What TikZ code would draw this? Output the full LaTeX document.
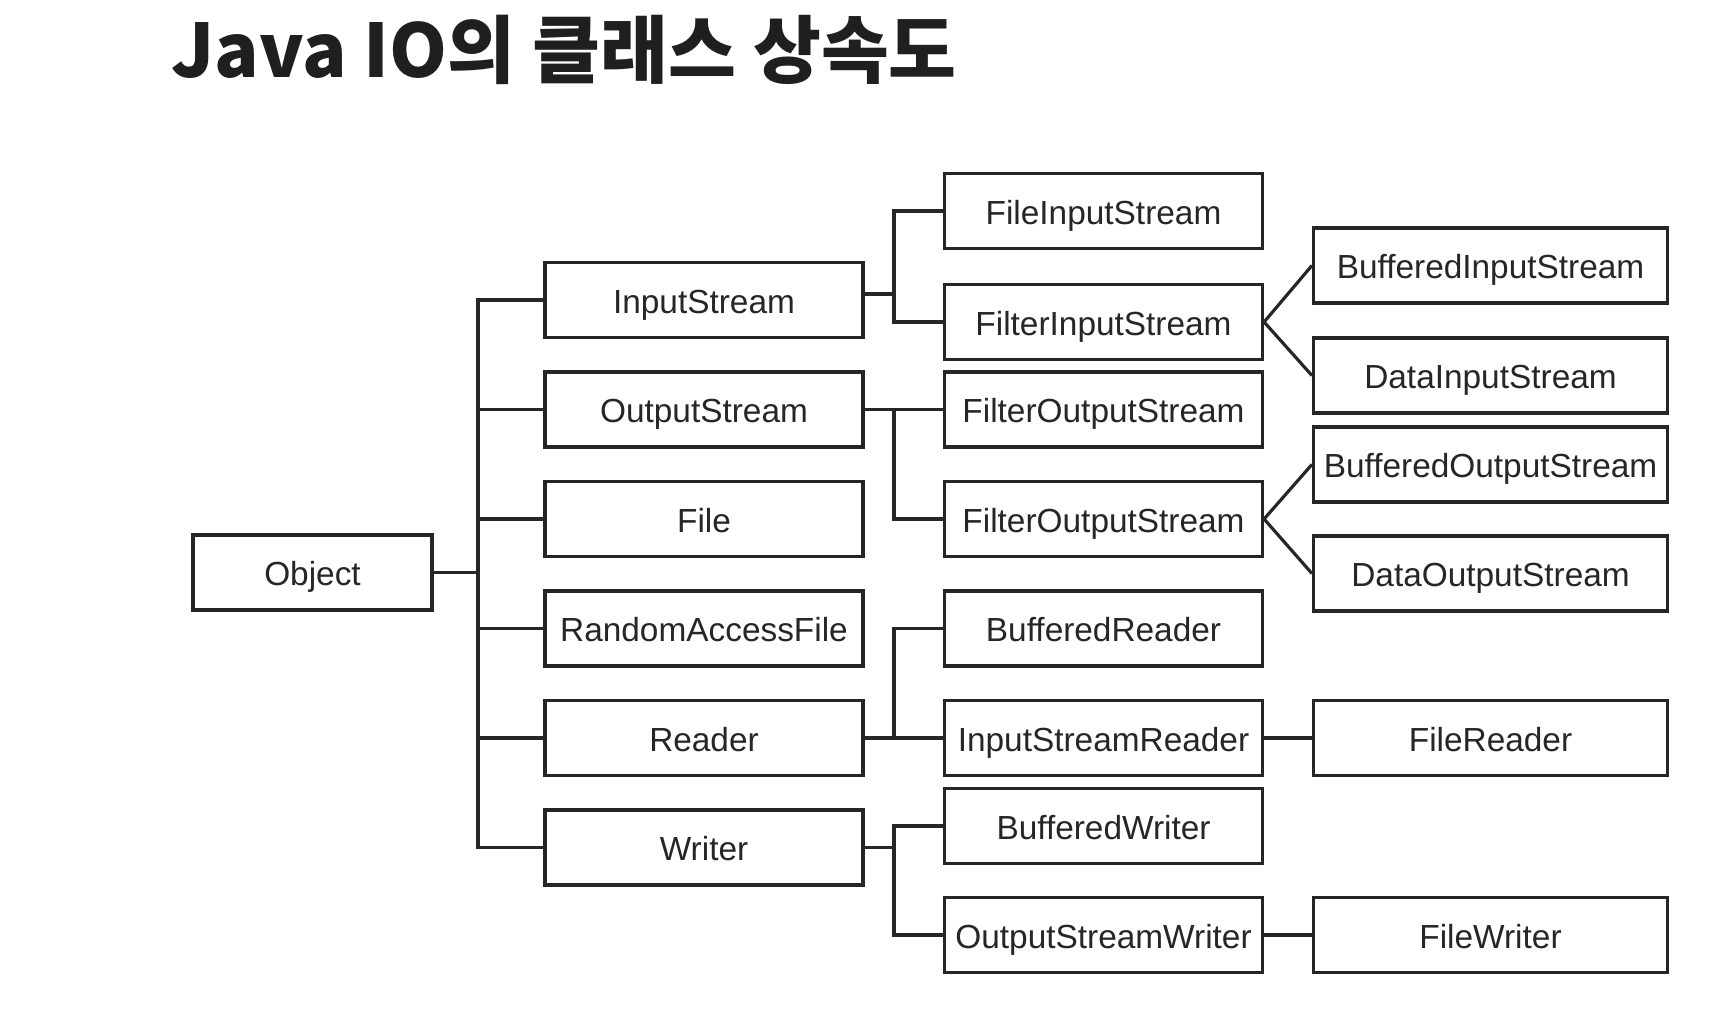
\documentclass[tikz,border=0pt]{standalone}
\usepackage{fontspec}
\setmainfont{Liberation Sans}
\newfontfamily\krfont{Noto Sans CJK KR}
\usetikzlibrary{positioning}

\begin{document}
\begin{tikzpicture}[on grid,node distance=2.19cm,
                    cls/.style={draw=black!85,line width=1.8pt,fill=white,text=black!85,
                                minimum width=6.36cm,minimum height=1.5cm,inner sep=0pt,
                                text height=15pt,text depth=0pt,
                                font=\fontsize{19}{19}\selectfont},
                    wide/.style={cls,minimum width=7.08cm},
                    link/.style={draw=black!85,line width=1.8pt}]
                    \useasboundingbox (0,0) rectangle (34.18,-20.24);

                    \node[anchor=base west,text=black!88,font=\krfont\bfseries\fontsize{42}{46}\selectfont] (title) at (3.3,-1.55) {Java IO의 클래스 상속도};

                    % root and first level
                    \node[cls,minimum width=4.78cm] (obj) at (6.25,-11.45) {Object};
                    \node[cls] (is)   [above right=5.45cm and 7.83cm of obj] {InputStream};
                    \node[cls] (os)   [below=of is]   {OutputStream};
                    \node[cls] (file) [below=of os]   {File};
                    \node[cls] (raf)  [below=of file] {RandomAccessFile};
                    \node[cls] (rd)   [below=of raf]  {Reader};
                    \node[cls] (wr)   [below=of rd]   {Writer};

                    % second level
                    \node[cls] (filis) [below right=0.44cm and 7.99cm of is] {FilterInputStream};
                    \node[cls] (fis)   [above=2.22cm of filis] {FileInputStream};
                    \node[cls] (fos1)  [right=7.99cm of os]   {FilterOutputStream};
                    \node[cls] (fos2)  [right=7.99cm of file] {FilterOutputStream};
                    \node[cls] (br)    [right=7.99cm of raf]  {BufferedReader};
                    \node[cls] (isr)   [right=7.99cm of rd]   {InputStreamReader};
                    \node[cls] (bw)    [above right=0.43cm and 7.99cm of wr] {BufferedWriter};
                    \node[cls] (osw)   [below=2.18cm of bw] {OutputStreamWriter};

                    % third level
                    \node[wide] (bis) [above right=1.13cm and 7.74cm of filis] {BufferedInputStream};
                    \node[wide] (dis) [below right=1.07cm and 7.74cm of filis] {DataInputStream};
                    \node[wide] (bos) [above right=1.09cm and 7.74cm of fos2] {BufferedOutputStream};
                    \node[wide] (dos) [below right=1.09cm and 7.74cm of fos2] {DataOutputStream};
                    \node[wide] (fr)  [right=7.74cm of isr] {FileReader};
                    \node[wide] (fw)  [right=7.74cm of osw] {FileWriter};

                    % Object -> first level
                    \draw[link] (obj.east) -| ([xshift=-1.31cm]is.west) -- (is.west);
                    \draw[link] (obj.east) -| ([xshift=-1.31cm]os.west) -- (os.west);
                    \draw[link] (obj.east) -| ([xshift=-1.31cm]file.west) -- (file.west);
                    \draw[link] (obj.east) -| ([xshift=-1.31cm]raf.west) -- (raf.west);
                    \draw[link] (obj.east) -| ([xshift=-1.31cm]rd.west) -- (rd.west);
                    \draw[link] (obj.east) -| ([xshift=-1.31cm]wr.west) -- (wr.west);

                    % first level -> second level
                    \draw[link] ([yshift=0.12cm]is.east) -| ([xshift=-0.98cm]fis.west) -- (fis.west);
                    \draw[link] ([yshift=0.12cm]is.east) -| ([xshift=-0.98cm]filis.west) -- (filis.west);
                    \draw[link] (os.east) -- (fos1.west);
                    \draw[link] (os.east) -| ([xshift=-0.98cm]fos2.west) -- (fos2.west);
                    \draw[link] (rd.east) -| ([xshift=-0.98cm]br.west) -- (br.west);
                    \draw[link] (rd.east) -- (isr.west);
                    \draw[link] (wr.east) -| ([xshift=-0.98cm]bw.west) -- (bw.west);
                    \draw[link] (wr.east) -| ([xshift=-0.98cm]osw.west) -- (osw.west);

                    % second level -> third level
                    \draw[link] (filis.east) -- (bis.west);
                    \draw[link] (filis.east) -- (dis.west);
                    \draw[link] (fos2.east) -- (bos.west);
                    \draw[link] (fos2.east) -- (dos.west);
                    \draw[link] (isr.east) -- (fr.west);
                    \draw[link] (osw.east) -- (fw.west);

                \end{tikzpicture}
\end{document}
